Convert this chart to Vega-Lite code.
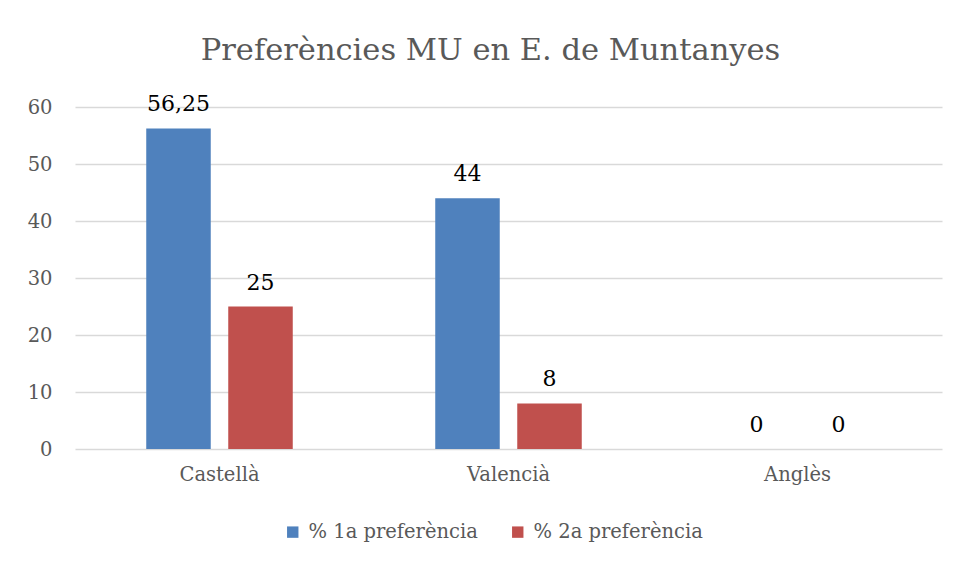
{
  "$schema": "https://vega.github.io/schema/vega-lite/v6.json",
  "width": 867,
  "height": 342,
  "autosize": {"type": "none"},
  "padding": {"left": 75, "top": 107, "right": 18, "bottom": 113},
  "background": "white",
  "config": {
    "locale": {"number": {"decimal": ",", "thousands": ".", "grouping": [3], "currency": ["", " €"]}},
    "view": {"stroke": null},
    "font": "DejaVu Serif"
  },
  "title": {
    "text": "Preferències MU en E. de Muntanyes",
    "fontSize": 30.5,
    "font": "DejaVu Serif",
    "fontWeight": "normal",
    "color": "#595959",
    "anchor": "middle",
    "offset": 27,
    "dx": -18
  },
  "data": {
    "values": [
      {"llengua": "Castellà", "serie": "% 1a preferència", "valor": 56.25},
      {"llengua": "Castellà", "serie": "% 2a preferència", "valor": 25},
      {"llengua": "Valencià", "serie": "% 1a preferència", "valor": 44},
      {"llengua": "Valencià", "serie": "% 2a preferència", "valor": 8},
      {"llengua": "Anglès", "serie": "% 1a preferència", "valor": 0},
      {"llengua": "Anglès", "serie": "% 2a preferència", "valor": 0}
    ]
  },
  "encoding": {
    "x": {
      "field": "llengua",
      "type": "nominal",
      "sort": ["Castellà", "Valencià", "Anglès"],
      "scale": {"paddingInner": 0.493, "paddingOuter": 0.2465},
      "axis": {"title": null, "labelAngle": 0, "ticks": false, "domain": false, "labelFontSize": 19.5, "labelColor": "#595959", "labelPadding": 16, "labelFont": "DejaVu Serif"}
    },
    "xOffset": {
      "field": "serie",
      "type": "nominal",
      "sort": ["% 1a preferència", "% 2a preferència"],
      "scale": {"paddingInner": 0.2133, "paddingOuter": 0}
    },
    "y": {
      "field": "valor",
      "type": "quantitative",
      "scale": {"domain": [0, 60], "nice": false},
      "axis": {"title": null, "values": [0, 10, 20, 30, 40, 50, 60], "domain": false, "ticks": false, "gridColor": "#d9d9d9", "gridWidth": 1.3, "labelFontSize": 19.5, "labelColor": "#595959", "labelPadding": 23, "labelFont": "DejaVu Serif"}
    }
  },
  "layer": [
    {
      "mark": {"type": "bar"},
      "encoding": {
        "color": {
          "field": "serie",
          "type": "nominal",
          "sort": ["% 1a preferència", "% 2a preferència"],
          "scale": {"domain": ["% 1a preferència", "% 2a preferència"], "range": ["#4F81BD", "#C0504D"]},
          "legend": {"orient": "none", "legendX": 208, "legendY": 415, "direction": "horizontal", "title": null, "labelFontSize": 19.5, "labelColor": "#595959", "labelFont": "DejaVu Serif", "labelLimit": 400, "symbolType": "square", "symbolSize": 130, "symbolStrokeWidth": 0, "symbolOpacity": 1, "columnPadding": 30, "labelOffset": 6}
        }
      }
    },
    {
      "mark": {"type": "text", "dy": -17, "baseline": "alphabetic", "fontSize": 22, "color": "#000000", "font": "DejaVu Serif"},
      "encoding": {
        "text": {"field": "valor", "type": "quantitative", "format": ".4~r"}
      }
    }
  ]
}
